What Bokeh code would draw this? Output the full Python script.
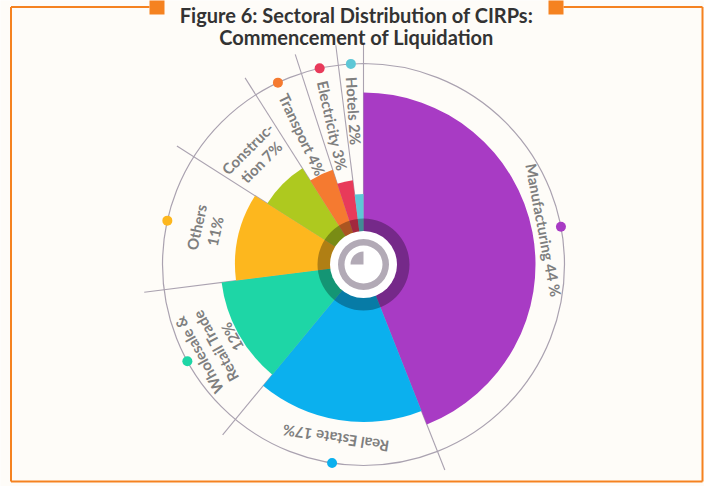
import math
from bokeh.plotting import figure
from bokeh.models import Range1d
from bokeh.core.properties import value
from bokeh.embed import file_html
from bokeh.resources import INLINE

# ---------------- data ----------------
sectors = ["Manufacturing", "Real Estate", "Wholesale & Retail Trade", "Others",
           "Construction", "Transport", "Electricity", "Hotels"]
shares = [44, 17, 12, 11, 7, 4, 3, 2]
labels = ["Manufacturing 44 %", "Real Estate 17%", "Wholesale &\nRetail Trade\n12%",
          "Others\n11%", "Construc-\ntion 7%", "Transport 4%", "Electricity 3%", "Hotels 2%"]
label_style = ["arc", "arc", "arc", "arc", "arc", "radial", "radial", "radial"]
has_marker = [True, True, True, True, False, True, True, True]
colors = ["#A83BC4", "#0BB0EE", "#1ED6A6", "#FDB71E", "#AEC91F", "#F57A30", "#E83A5A", "#5EC7D6"]
title_lines = ["Figure 6: Sectoral Distribution of CIRPs:", "Commencement of Liquidation"]

# ---------------- layout ----------------
W, H = 704, 486
BG = "#FEFCF8"
ORANGE = "#F58220"
GREY_LINE = "#AAA2B0"
TXT = "#7F7F7F"
FONT = "Lato"


def sy(y_screen):
    return H - y_screen


p = figure(width=W, height=H, output_backend="svg", toolbar_location=None,
           x_range=Range1d(0, W), y_range=Range1d(0, H),
           min_border=0, outline_line_color=None)
p.axis.visible = False
p.grid.visible = False
p.background_fill_color = BG
p.border_fill_color = BG

cx, cy = 363, sy(264)
R_RING = 201
R_LINE = 221
R_MAX = 172
R_STEP = 14.5

total = float(sum(shares))
cum = [0.0]
for s in shares:
    cum.append(cum[-1] + s)
theta_start = [360 * c / total for c in cum[:-1]]
theta_end = [360 * c / total for c in cum[1:]]
theta_mid = [(a + b) / 2 for a, b in zip(theta_start, theta_end)]
r_outer = [R_MAX - R_STEP * i for i in range(len(shares))]


def pol(r, th):
    t = math.radians(th)
    return cx + r * math.sin(t), cy + r * math.cos(t)

# radial separator lines
xs0, ys0, xs1, ys1 = [], [], [], []
for th in theta_start:
    x1, y1 = pol(R_LINE, th)
    xs0.append(cx); ys0.append(cy); xs1.append(x1); ys1.append(y1)
p.segment(x0=xs0, y0=ys0, x1=xs1, y1=ys1, line_color=GREY_LINE, line_width=1.1)

# outer thin ring
p.circle(x=cx, y=cy, radius=R_RING, fill_color=None, line_color=GREY_LINE, line_width=1.2)

# sectors
p.annular_wedge(x=cx, y=cy, inner_radius=0, outer_radius=r_outer,
                start_angle=[math.radians(90 - t) for t in theta_start],
                end_angle=[math.radians(90 - t) for t in theta_end],
                direction="clock", fill_color=colors, line_color=None)

# centre decoration
p.annulus(x=cx, y=cy, inner_radius=33, outer_radius=46, fill_color="black",
          fill_alpha=0.3, line_color=None)
p.circle(x=cx, y=cy, radius=33.5, fill_color="#FFFFFF", line_color=None)
p.annulus(x=cx, y=cy, inner_radius=19, outer_radius=25.5, fill_color="#B2AAB6", line_color=None)
p.wedge(x=cx, y=cy, radius=13, start_angle=math.radians(90), end_angle=math.radians(180),
        direction="anticlock", fill_color="#B2AAB6", line_color=None)

# markers on ring
mx, my, mc = [], [], []
for i, show in enumerate(has_marker):
    if show:
        x, y = pol(R_RING, theta_mid[i])
        mx.append(x); my.append(y); mc.append(colors[i])
p.scatter(x=mx, y=my, size=10, marker="circle", fill_color=mc, line_color=None)

# labels
LINE_GAP = 19
ax, ay, at, aa = [], [], [], []
rx, ry, rt, ra = [], [], [], []
for i, lab in enumerate(labels):
    th = theta_mid[i]
    if label_style[i] == "arc":
        lines = lab.split("\n")
        n = len(lines)
        rc = (r_outer[i] + R_RING) / 2 - 3
        for k, ln in enumerate(lines):
            r = rc + (n - 1) / 2 * LINE_GAP - k * LINE_GAP
            x, y = pol(r, th)
            ax.append(x); ay.append(y); at.append(ln); aa.append(math.radians(-th))
    else:
        x, y = pol(188, th)
        rx.append(x); ry.append(y); rt.append(lab); ra.append(math.radians(270 - th))

p.text(x=ax, y=ay, text=at, angle=aa, text_align="center", text_baseline="middle",
       text_font=value(FONT), text_font_style="bold", text_font_size="15px", text_color=TXT)
p.text(x=rx, y=ry, text=rt, angle=ra, text_align="left", text_baseline="middle",
       text_font=value(FONT), text_font_style="bold", text_font_size="15px", text_color=TXT)

# frame
FL, FR, FT, FB = 10.5, 702, 6.5, 481
p.segment(x0=[FL, FL, FR, FL, 563], y0=[sy(FT), sy(FB), sy(FB), sy(FT), sy(FT)],
          x1=[FL, FR, FR, 149, FR], y1=[sy(FB), sy(FB), sy(FT), sy(FT), sy(FT)],
          line_color=ORANGE, line_width=2)
p.quad(left=[149, 548], right=[164, 563], top=[sy(-1), sy(-1)], bottom=[sy(14), sy(14)],
       fill_color=ORANGE, line_color=None)

# title
p.text(x=[356, 356], y=[sy(14), sy(36)], text=title_lines, text_align="center",
       text_baseline="alphabetic", text_font=value(FONT), text_font_style="bold",
       text_font_size="20px", text_color="#333333")

open("out.html", "w").write(file_html(p, INLINE))
